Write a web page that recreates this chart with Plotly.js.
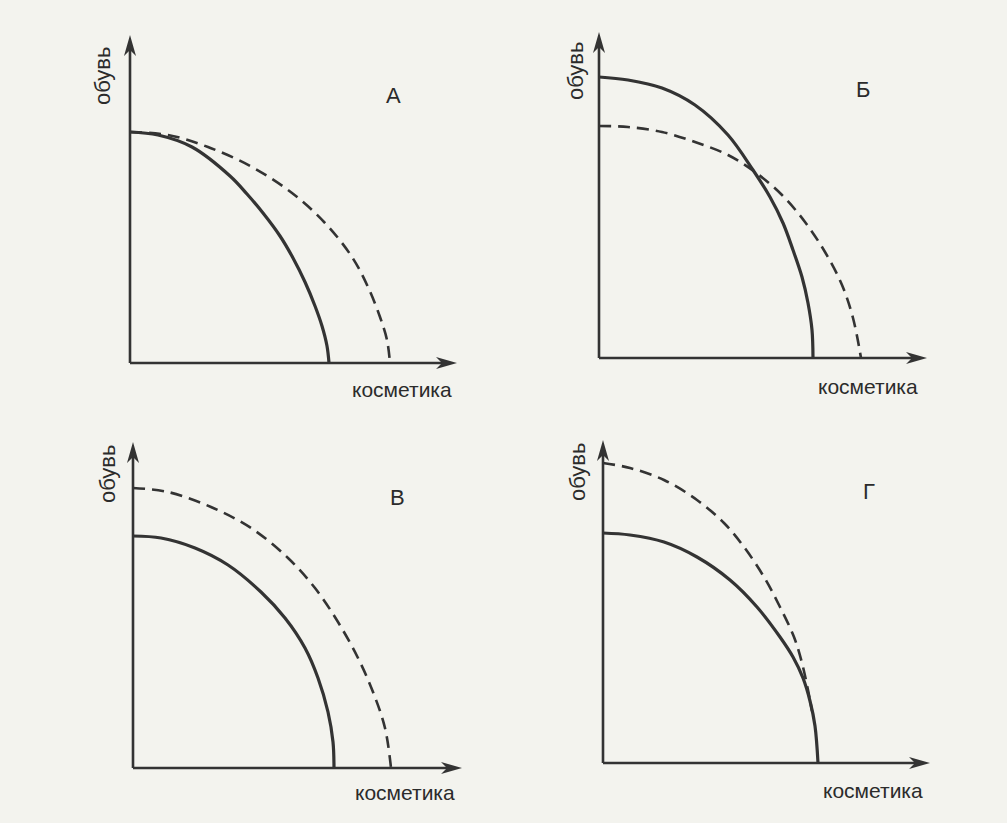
<!DOCTYPE html>
<html>
<head>
<meta charset="utf-8">
<script src="https://cdn.plot.ly/plotly-3.0.1.min.js"></script>
<style>html,body{margin:0;padding:0;background:#f3f3ee;}</style>
</head>
<body>
<div id="chart" style="width:1007px;height:823px;"></div>
<script>
// ---- data (units = offset from each panel's origin) ----
const panelLetters = ["А", "Б", "В", "Г"];
const xLabel = "косметика";
const yLabel = "обувь";

const aSolidX = [0, 28, 62, 100, 117, 133, 150, 163, 175, 185, 192, 197, 199];
const aSolidY = [231, 228, 216, 187, 169, 150, 127, 105, 81, 57, 37, 17, 0];
const aDashX  = [0, 38, 78, 122, 162, 195, 222, 238, 250, 257, 260];
const aDashY  = [231, 228, 216, 196, 170, 140, 106, 76, 46, 23, 0];

const bSolidX = [0, 29, 63, 96, 129, 154, 171, 184, 194, 203, 209, 213, 214];
const bSolidY = [281, 278, 270, 253, 223, 188, 161, 135, 108, 81, 55, 28, 0];
const bDashX  = [0, 29, 63, 96, 129, 156, 183, 206, 226, 243, 254, 262];
const bDashY  = [232, 231, 226, 216, 203, 186, 163, 136, 106, 73, 40, 0];

const vSolidX = [0, 28, 62, 95, 128, 152, 172, 185, 195, 200, 201];
const vSolidY = [232, 230, 220, 203, 176, 150, 120, 90, 56, 26, 0];
const vDashX  = [0, 35, 78, 118, 155, 182, 205, 225, 240, 252, 258];
const vDashY  = [280, 276, 261, 240, 210, 180, 146, 110, 76, 40, 0];

const gSolidX = [0, 27, 61, 94, 127, 154, 177, 190, 200, 207, 212, 215];
const gSolidY = [230, 228, 221, 206, 183, 156, 126, 106, 85, 62, 37, 0];
const gDashX  = [0, 27, 61, 94, 121, 141, 161, 177, 191, 199, 205, 209];
const gDashY  = [300, 295, 283, 263, 240, 216, 186, 156, 126, 100, 73, 52];

// ---- layout geometry (pixels on the page) ----
const W = 1007, H = 823;
const panels = [
  {origin: [130, 363], tip: [457, 35], xlab: [402, 389], ylab: [103, 76], letter: [393, 96],
   solid: [aSolidX, aSolidY], dash: [aDashX, aDashY]},
  {origin: [599, 358], tip: [927, 32], xlab: [868, 386], ylab: [576, 71], letter: [863, 90],
   solid: [bSolidX, bSolidY], dash: [bDashX, bDashY]},
  {origin: [133, 768], tip: [462, 442], xlab: [405, 792], ylab: [108, 474], letter: [397, 497],
   solid: [vSolidX, vSolidY], dash: [vDashX, vDashY]},
  {origin: [603, 763], tip: [930, 440], xlab: [873, 790], ylab: [577, 472], letter: [869, 491],
   solid: [gSolidX, gSolidY], dash: [gDashX, gDashY]}
];

const ink = "#333333";
const FONT = "Liberation Sans, Arial, Helvetica, sans-serif";
const pad = 15;

const traces = [];
const shapes = [];
const annotations = [];
const layout = {
  width: W, height: H, autosize: false,
  margin: {l: 0, r: 0, t: 0, b: 0, pad: 0},
  paper_bgcolor: "#f3f3ee", plot_bgcolor: "rgba(0,0,0,0)",
  showlegend: false
};

panels.forEach((p, i) => {
  const n = i === 0 ? "" : String(i + 1);
  const xa = "x" + n, ya = "y" + n;
  const lenX = p.tip[0] - p.origin[0];
  const lenY = p.origin[1] - p.tip[1];
  layout["xaxis" + n] = {
    domain: [(p.origin[0] - pad) / W, (p.tip[0] + pad) / W],
    range: [-pad, lenX + pad], visible: false, fixedrange: true, anchor: ya
  };
  layout["yaxis" + n] = {
    domain: [1 - (p.origin[1] + pad) / H, 1 - (p.tip[1] - pad) / H],
    range: [-pad, lenY + pad], visible: false, fixedrange: true, anchor: xa
  };
  traces.push({
    x: p.solid[0], y: p.solid[1], xaxis: xa, yaxis: ya, type: "scatter", mode: "lines",
    line: {color: ink, width: 3.2, shape: "spline", smoothing: 1}, cliponaxis: false, hoverinfo: "skip"
  });
  traces.push({
    x: p.dash[0], y: p.dash[1], xaxis: xa, yaxis: ya, type: "scatter", mode: "lines",
    line: {color: ink, width: 2.6, dash: "12px,7px", shape: "spline", smoothing: 1}, cliponaxis: false, hoverinfo: "skip"
  });
  // axis lines
  shapes.push({type: "line", xref: xa, yref: ya, x0: 0, y0: 0, x1: 0, y1: lenY - 10,
    line: {color: ink, width: 2.6}});
  shapes.push({type: "line", xref: xa, yref: ya, x0: 0, y0: 0, x1: lenX - 10, y1: 0,
    line: {color: ink, width: 2.6}});
  // arrow heads
  shapes.push({type: "path", xref: xa, yref: ya, xsizemode: "pixel", ysizemode: "pixel",
    xanchor: 0, yanchor: lenY, path: "M0,0 L-6,-21 L0,-15 L6,-21 Z",
    fillcolor: ink, line: {width: 0}});
  shapes.push({type: "path", xref: xa, yref: ya, xsizemode: "pixel", ysizemode: "pixel",
    xanchor: lenX, yanchor: 0, path: "M0,0 L-21,6 L-15,0 L-21,-6 Z",
    fillcolor: ink, line: {width: 0}});
  // labels
  annotations.push({xref: "paper", yref: "paper", x: p.xlab[0] / W, y: 1 - p.xlab[1] / H,
    text: xLabel, showarrow: false, xanchor: "center", yanchor: "middle",
    font: {family: FONT, size: 21, color: "#2b2b2b"}});
  annotations.push({xref: "paper", yref: "paper", x: p.ylab[0] / W, y: 1 - p.ylab[1] / H,
    text: yLabel, showarrow: false, xanchor: "center", yanchor: "middle", textangle: -90,
    font: {family: FONT, size: 22, color: "#2b2b2b"}});
  annotations.push({xref: "paper", yref: "paper", x: p.letter[0] / W, y: 1 - p.letter[1] / H,
    text: panelLetters[i], showarrow: false, xanchor: "center", yanchor: "middle",
    font: {family: FONT, size: 22, color: "#2b2b2b"}});
});

layout.shapes = shapes;
layout.annotations = annotations;

Plotly.newPlot("chart", traces, layout, {staticPlot: true, displayModeBar: false});
</script>
</body>
</html>
